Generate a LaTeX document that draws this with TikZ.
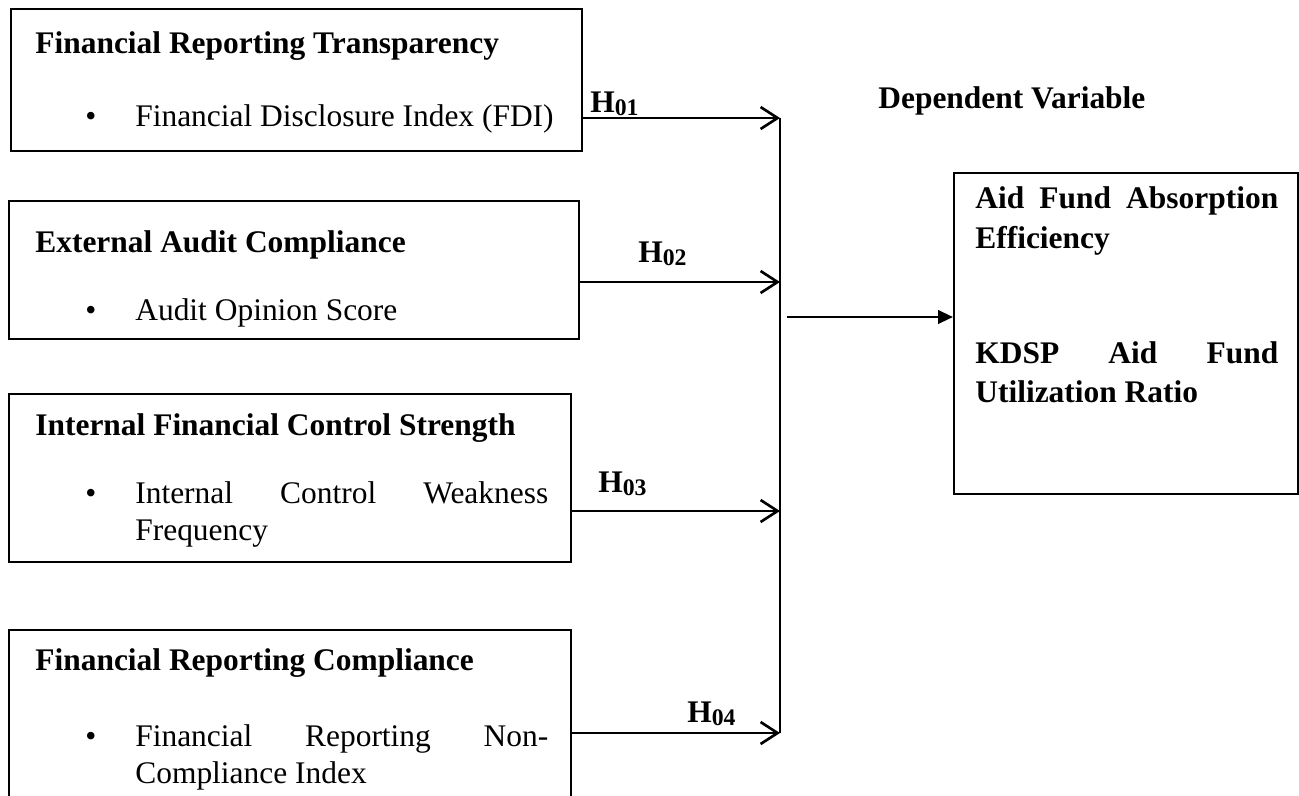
\documentclass[tikz,border=0pt]{standalone}
\usepackage{fontspec}
\setmainfont{Liberation Serif}
\usetikzlibrary{arrows.meta,positioning}

\tikzset{
  varbox/.style={draw,line width=1pt,inner sep=0pt,anchor=north west},
  head/.style={anchor=base west,inner sep=0pt,font=\bfseries},
  item/.style={anchor=base west,inner sep=0pt},
  hyp/.style={line width=1.5pt,-{Straight Barb[length=0.34cm,width=0.44cm,line width=1.5pt]}},
  hlabel/.style={anchor=base west,inner sep=0pt,font=\bfseries},
  result/.style={line width=1.5pt,-{Triangle[length=0.3cm,width=0.27cm]}}
}
\newcommand{\hyplab}[1]{H\raisebox{-0.1em}{\fontsize{13.5}{14}\selectfont #1}}

\begin{document}
\fontsize{17.9}{23}\selectfont
\begin{tikzpicture}[x=0.02cm,y=-0.02cm]
\clip (0,0) rectangle (1299,795);

% independent variables
\node[varbox,minimum width=11.42cm,minimum height=2.84cm] (frt) at (10,8) {};
\node[head] (frtT) at (35,53) {Financial Reporting Transparency};
\node[item] (frtI) at (85,126) {\makebox[1cm][l]{\textbullet}Financial Disclosure Index (FDI)};

\node[varbox,minimum width=11.4cm,minimum height=2.76cm] (eac) at (8,200) {};
\node[head] (eacT) at (35,252) {External Audit Compliance};
\node[item] (eacI) at (85,320) {\makebox[1cm][l]{\textbullet}Audit Opinion Score};

\node[varbox,minimum width=11.24cm,minimum height=3.36cm] (ifc) at (8,393) {};
\node[head] (ifcT) at (35,435) {Internal Financial Control Strength};
\node[item] (ifcI) at (85,503) {\makebox[1cm][l]{\textbullet}\makebox[8.26cm][s]{Internal Control Weakness}};
\node[item] (ifcJ) at (135,540) {Frequency};

\node[varbox,minimum width=11.24cm,minimum height=3.6cm] (frc) at (8,629) {};
\node[head] (frcT) at (35,670) {Financial Reporting Compliance};
\node[item] (frcI) at (85,746) {\makebox[1cm][l]{\textbullet}\makebox[8.26cm][s]{Financial Reporting Non-}};
\node[item] (frcJ) at (135,783) {Compliance Index};

%-------------------------------------
% dependent variable
\node[head] (depT) at (878,108) {Dependent Variable};
\node[varbox,minimum width=6.88cm,minimum height=6.42cm] (afa) at (953,172) {};
\node[head] (afaA) at (975,208) {\makebox[6.06cm][s]{Aid Fund Absorption}};
\node[head] (afaB) at (975,248) {Efficiency};
\node[head] (afaC) at (975,363) {\makebox[6.06cm][s]{KDSP Aid Fund}};
\node[head] (afaD) at (975,402) {Utilization Ratio};

%-------------------------------------
% hypotheses
\coordinate (j1) at (780,118);
\coordinate (j2) at (780,282);
\coordinate (j3) at (780,511);
\coordinate (j4) at (780,733);
\coordinate (out) at (787,317);

\draw[hyp] (frt.east |- j1) -- (j1);
\draw[hyp] (eac.east |- j2) -- (j2);
\draw[hyp] (ifc.east |- j3) -- (j3);
\draw[hyp] (frc.east |- j4) -- (j4);
\draw[line width=1.2pt] (j1) -- (j4);
\draw[result] (out) -- (afa.west |- out);

\node[hlabel] (h1) at (590,112) {\hyplab{01}};
\node[hlabel] (h2) at (638,262) {\hyplab{02}};
\node[hlabel] (h3) at (598,492) {\hyplab{03}};
\node[hlabel] (h4) at (687,722) {\hyplab{04}};

\end{tikzpicture}
\end{document}
